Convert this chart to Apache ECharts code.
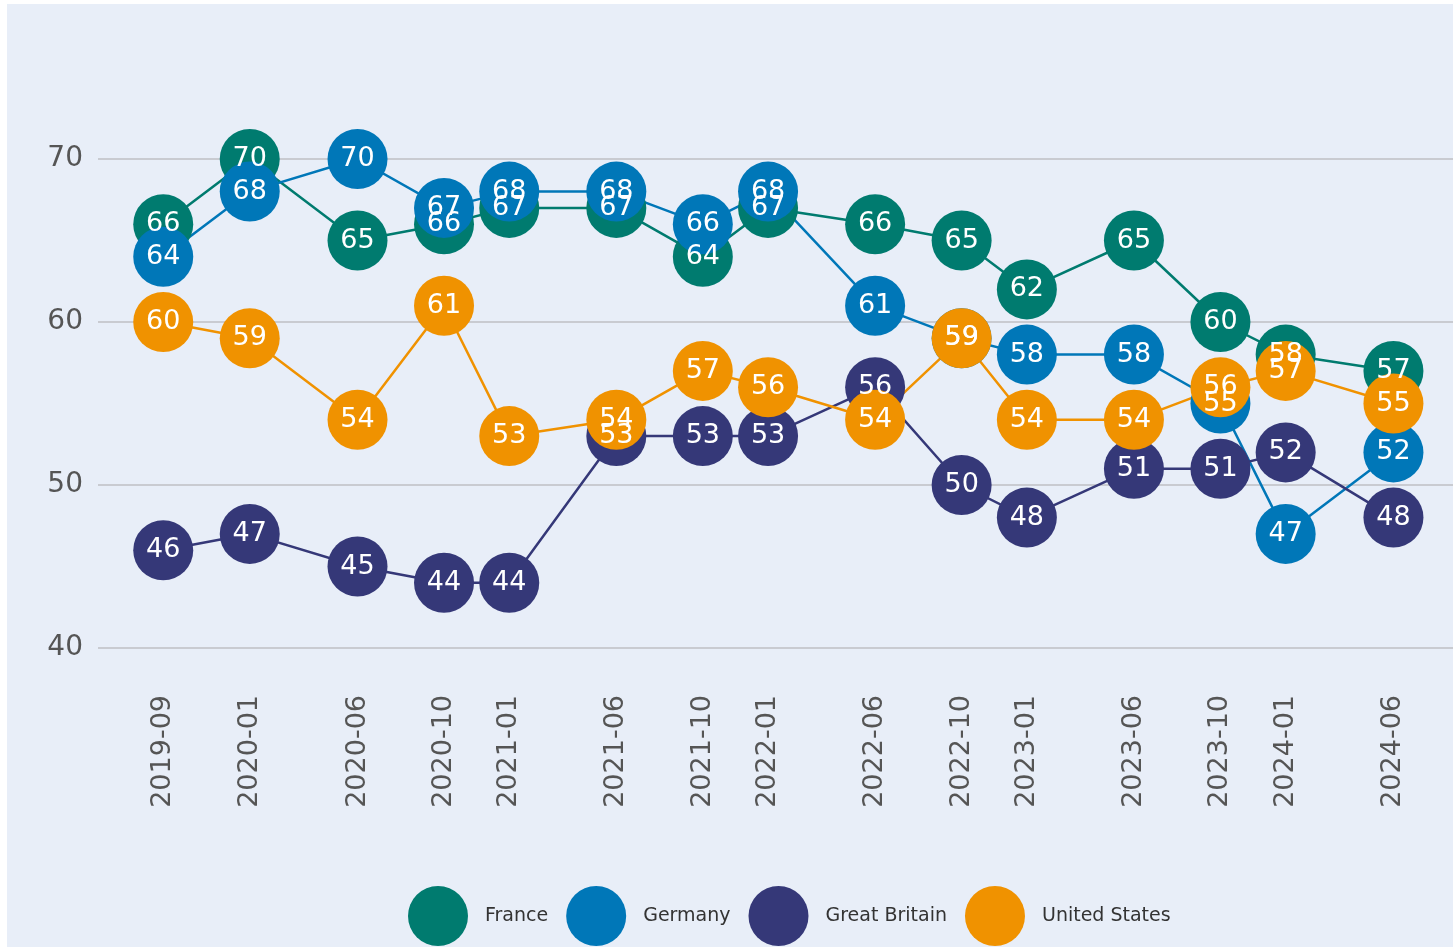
<!DOCTYPE html>
<html>
<head>
<meta charset="utf-8">
<script src="https://cdn.jsdelivr.net/npm/echarts@6/dist/echarts.min.js"></script>
<style>
  html, body { margin: 0; padding: 0; background: #ffffff; }
  #chart { position: absolute; left: 7px; top: 4px; width: 1446px; height: 943px; background: #e8eef8; }
</style>
</head>
<body>
<div id="chart"></div>
<script>
const months = ['2019-09', '2020-01', '2020-06', '2020-10', '2021-01', '2021-06', '2021-10', '2022-01',
  '2022-06', '2022-10', '2023-01', '2023-06', '2023-10', '2024-01', '2024-06']
const france = [66, 70, 65, 66, 67, 67, 64, 67, 66, 65, 62, 65, 60, 58, 57]
const germany = [64, 68, 70, 67, 68, 68, 66, 68, 61, 59, 58, 58, 55, 47, 52]
const greatBritain = [46, 47, 45, 44, 44, 53, 53, 53, 56, 50, 48, 51, 51, 52, 48]
const unitedStates = [60, 59, 54, 61, 53, 54, 57, 56, 54, 59, 54, 54, 56, 57, 55]
const yTicks = [40, 50, 60, 70]

const DAY = 86400000
const toTime = (s) => {
  const [y, m] = s.split('-').map(Number)
  return Date.UTC(y, m - 1, 1)
}
const pad = (n) => (n < 10 ? '0' + n : '' + n)
const fontFamily = 'DejaVu Sans'

const chart = echarts.init(document.getElementById('chart'))

const makeSeries = (name, values, color) => ({
  name,
  type: 'line',
  data: months.map((m, i) => [toTime(m), values[i]]),
  symbol: 'circle',
  symbolSize: 60,
  itemStyle: { color },
  lineStyle: { color, width: 2.5 },
  label: {
    show: true,
    position: 'inside',
    color: '#ffffff',
    fontSize: 27,
    fontFamily,
  },
  emphasis: { disabled: true },
  animation: false,
})

const option = {
  backgroundColor: '#e8eef8',
  grid: {
    left: 91,
    right: 0,
    top: 155,
    bottom: 299,
  },
  legend: {
    bottom: 1,
    left: 401,
    padding: 0,
    icon: 'circle',
    itemWidth: 60,
    itemHeight: 60,
    itemGap: 18,
    textStyle: {
      color: '#333333',
      fontSize: 19,
      fontFamily,
      padding: [0, 0, 0, 12],
    },
    data: ['France', 'Germany', 'Great Britain', 'United States'],
  },
  xAxis: {
    type: 'value',
    min: toTime('2019-09') - 92 * DAY,
    max: toTime('2024-06') + 84 * DAY,
    axisLine: { show: false },
    axisTick: { show: false },
    splitLine: { show: false },
    axisLabel: {
      customValues: months.map(toTime),
      rotate: 90,
      margin: 47,
      color: '#555555',
      fontSize: 27,
      fontFamily,
      formatter: (v) => {
        const d = new Date(v)
        return d.getUTCFullYear() + '-' + pad(d.getUTCMonth() + 1)
      },
    },
  },
  yAxis: {
    type: 'value',
    min: yTicks[0],
    max: yTicks[yTicks.length - 1],
    interval: 10,
    axisLine: { show: false },
    axisTick: { show: false },
    splitLine: { lineStyle: { color: '#bfbfc4', width: 1.5 } },
    axisLabel: {
      margin: 15,
      color: '#555555',
      fontSize: 28,
      fontFamily,
    },
  },
  series: [
    makeSeries('France', france, '#007b6f'),
    makeSeries('Germany', germany, '#0077b8'),
    makeSeries('Great Britain', greatBritain, '#353878'),
    makeSeries('United States', unitedStates, '#f09200'),
  ],
}

chart.setOption(option)
</script>
</body>
</html>
